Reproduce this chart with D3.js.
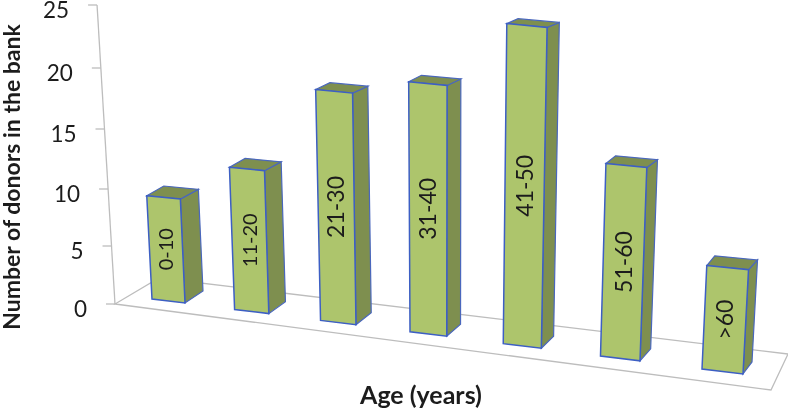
<!DOCTYPE html>
<html>
<head>
<meta charset="utf-8">
<script src="https://cdn.jsdelivr.net/npm/d3@7"></script>
<style>
	html, body { margin: 0; padding: 0; background: #fff; }
	svg { display: block; filter: blur(0.5px); }
	text { font-family: Lato, "Open Sans", sans-serif; fill: #1c1c1c; }
</style>
</head>
<body>
<div id="chart"></div>
<script>
(function() {
	var categories = ['0-10', '11-20', '21-30', '31-40', '41-50', '51-60', '>60'];
	var donors = [8, 10.5, 16, 16.5, 20, 11.7, 6];
	var yTicks = [0, 5, 10, 15, 20, 25];
	var yTitle = 'Number of donors in the bank';
	var xTitle = 'Age (years)';

	var width = 788, height = 411;
	var svg = d3.select('#chart').append('svg')
		.attr('width', width)
		.attr('height', height)
		.attr('viewBox', '0 0 ' + width + ' ' + height);

	// the ticks on the wall are not evenly spaced, the picture is a 3d view
	var y = d3.scaleLinear().domain(yTicks).range([304, 246, 189, 129, 68, 5]);

	// bars move along the floor with a bit of perspective
	var persp = function(i) { return i / (1 - 0.0194 * i); };
	var x = d3.scaleLinear().domain([persp(0), persp(categories.length - 1)]).range([152, 702]);
	var floorY = d3.scaleLinear().domain([152, 702]).range([299, 369]);
	var barWidth = d3.scaleLinear().domain([152, 702]).range([33, 41]);
	var nearness = d3.scaleLinear().domain([152, 702]).range([1.12, 1.49]);
	var sideX = d3.scaleLinear().domain([152, 702]).range([18, 9]);

	var lean = function(px, h) { return (px - 440) * 0.000176 * h; };
	var point = function(px, v) {
		var h = (y(0) - y(v)) * nearness(px);
		return [px + lean(px, h), floorY(px) - h];
	};
	var toPath = function(pts) { return 'M' + pts.join('L') + 'Z'; };

	// floor
	svg.append('path')
		.attr('d', toPath([[115, 304], [771, 390], [788, 354], [159, 278]]))
		.attr('fill', 'none')
		.attr('stroke', '#bdbdbd')
		.attr('stroke-width', 1.3);

	// value axis
	var wallX = function(py) { return 115 - (y(0) - py) * 0.06; };
	svg.append('line')
		.attr('x1', wallX(y(0)))
		.attr('y1', y(0))
		.attr('x2', wallX(y(25)))
		.attr('y2', y(25))
		.attr('stroke', '#bdbdbd')
		.attr('stroke-width', 1.3);
	var tick = svg.selectAll('.tick')
		.data(yTicks)
		.enter()
		.append('g')
		.attr('class', 'tick')
		.attr('transform', function(d) { return 'translate(' + wallX(y(d)) + ',' + y(d) + ')'; });
	tick.append('line')
		.attr('x1', -9)
		.attr('x2', 0)
		.attr('stroke', '#bdbdbd')
		.attr('stroke-width', 1.3);
	tick.append('text')
		.attr('x', -28)
		.attr('y', 12.5)
		.attr('text-anchor', 'end')
		.attr('font-size', 22.5)
		.text(function(d) { return d; });

	// bars
	var bar = svg.selectAll('.bar')
		.data(categories)
		.enter()
		.append('g')
		.attr('class', 'bar');

	var faces = function(i) {
		var v = donors[i];
		var left = x(persp(i));
		var w = barWidth(left);
		var right = left + w;
		var bl = point(left, 0), br = [right, floorY(left) + w * 0.12];
		var tl = point(left, v);
		var tr = [right + lean(right, bl[1] - tl[1]), tl[1] + w * 0.1];
		var dx = sideX(left);
		var topDy = -(12 - (bl[1] - tl[1]) * 0.022);
		return {
			front: [tl, tr, br, bl],
			side: [tr, [tr[0] + dx, tr[1] + topDy], [br[0] + dx, br[1] - 12], br],
			top: [tl, [tl[0] + dx - 1, tl[1] + topDy], [tr[0] + dx, tr[1] + topDy], tr],
			mid: [(tl[0] + tr[0] + bl[0] + br[0]) / 4, (tl[1] + tr[1] + bl[1] + br[1]) / 4]
		};
	};

	bar.append('path')
		.attr('d', function(d, i) { return toPath(faces(i).side); })
		.attr('fill', '#7e8f4f')
		.attr('stroke', '#4a67bd')
		.attr('stroke-width', 1.2);
	bar.append('path')
		.attr('d', function(d, i) { return toPath(faces(i).top); })
		.attr('fill', '#7e8f4f')
		.attr('stroke', '#4a67bd')
		.attr('stroke-width', 1.2);
	bar.append('path')
		.attr('d', function(d, i) { return toPath(faces(i).front); })
		.attr('fill', '#adc56c')
		.attr('stroke', '#3d5fc4')
		.attr('stroke-width', 1.5);
	bar.append('text')
		.attr('transform', function(d, i) {
			var m = faces(i).mid;
			return 'translate(' + m[0] + ',' + m[1] + ') rotate(-90)';
		})
		.attr('text-anchor', 'middle')
		.attr('dy', '0.36em')
		.attr('font-size', function(d, i) { return i < 2 ? 20 : 23; })
		.text(function(d) { return d; });

	// axis titles
	svg.append('text')
		.attr('transform', 'translate(20,177) rotate(-90)')
		.attr('text-anchor', 'middle')
		.attr('font-size', 23)
		.attr('font-weight', 700)
		.text(yTitle);
	svg.append('text')
		.attr('x', 421)
		.attr('y', 404)
		.attr('text-anchor', 'middle')
		.attr('font-size', 25)
		.attr('font-weight', 700)
		.text(xTitle);
})();
</script>
</body>
</html>
